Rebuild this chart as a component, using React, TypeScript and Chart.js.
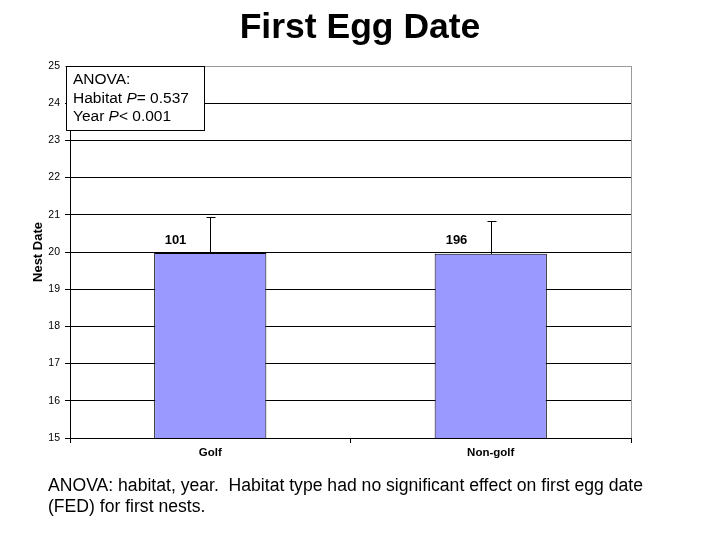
import React, { useEffect, useRef } from "react";
import { Chart, registerables } from "chart.js";

Chart.register(...registerables);

const categories = ["Golf", "Non-golf"];
const meanValues = [19.97, 19.95];
const errorTops = [20.94, 20.82];
const sampleSizes = ["101", "196"];
const yTicks = [15, 16, 17, 18, 19, 20, 21, 22, 23, 24, 25];
const titleText = "First Egg Date";
const yAxisTitle = "Nest Date";
const anovaLines = ["ANOVA:", "Habitat |P|= 0.537", "Year |P|< 0.001"];
const captionLines = [
  "ANOVA: habitat, year.  Habitat type had no significant effect on first egg date",
  "(FED) for first nests.",
];

const FONT = "Arial, 'Liberation Sans', Helvetica, sans-serif";

const overlayPlugin = {
  id: "overlay",
  afterDatasetsDraw(chart: any) {
    const ctx = chart.ctx;
    const y = chart.scales.y;
    const area = chart.chartArea;
    ctx.save();
    // right border (gray)
    ctx.strokeStyle = "#9a9a9a";
    ctx.lineWidth = 1;
    ctx.beginPath();
    ctx.moveTo(Math.round(area.right) + 0.5, area.top);
    ctx.lineTo(Math.round(area.right) + 0.5, area.bottom);
    ctx.stroke();

    // error bars
    ctx.strokeStyle = "#000";
    const meta = chart.getDatasetMeta(0);
    meta.data.forEach((bar: any, i: number) => {
      const cx = Math.round(bar.x) + 0.5;
      const yb = y.getPixelForValue(meanValues[i]);
      const yt = Math.round(y.getPixelForValue(errorTops[i])) + 0.5;
      ctx.beginPath();
      ctx.moveTo(cx, yb);
      ctx.lineTo(cx, yt);
      ctx.moveTo(cx - 4, yt);
      ctx.lineTo(cx + 5, yt);
      ctx.stroke();
      // sample size labels
      ctx.fillStyle = "#000";
      ctx.font = `bold 13px ${FONT}`;
      ctx.textAlign = "center";
      ctx.textBaseline = "alphabetic";
      ctx.fillText(sampleSizes[i], cx - 35, 243.5);
    });

    // annotation box
    const bx = 66.5, by = 66.5, bw = 138, bh = 64;
    ctx.fillStyle = "#fff";
    ctx.fillRect(bx, by, bw, bh);
    ctx.strokeStyle = "#000";
    ctx.strokeRect(bx, by, bw, bh);
    ctx.fillStyle = "#000";
    ctx.textAlign = "left";
    ctx.textBaseline = "alphabetic";
    anovaLines.forEach((line, i) => {
      let cxp = 73;
      const baseline = 84 + i * 18.5;
      const parts = line.split("|");
      parts.forEach((p, j) => {
        ctx.font = (j % 2 === 1 ? "italic " : "") + `15.5px ${FONT}`;
        ctx.fillText(p, cxp, baseline);
        cxp += ctx.measureText(p).width;
      });
    });

    // y-axis title
    ctx.save();
    ctx.translate(38, 252);
    ctx.rotate(-Math.PI / 2);
    ctx.font = `bold 13px ${FONT}`;
    ctx.textAlign = "center";
    ctx.textBaseline = "middle";
    ctx.fillText(yAxisTitle, 0, 0);
    ctx.restore();

    // title
    ctx.font = `bold 35.5px ${FONT}`;
    ctx.textAlign = "center";
    ctx.textBaseline = "alphabetic";
    ctx.fillText(titleText, 360, 38);

    // caption
    ctx.font = `17.6px ${FONT}`;
    ctx.textAlign = "left";
    ctx.textBaseline = "alphabetic";
    captionLines.forEach((l, i) => ctx.fillText(l, 48, 491 + i * 21));
    ctx.restore();
  },
};

export default function App() {
  const ref = useRef<HTMLCanvasElement>(null);
  useEffect(() => {
    document.body.style.margin = "0";
    const chart = new Chart(ref.current!, {
      type: "bar",
      data: {
        labels: categories,
        datasets: [
          {
            data: meanValues,
            backgroundColor: "#9999ff",
            borderColor: "#000",
            borderWidth: 1,
            barPercentage: 0.4,
            categoryPercentage: 1,
          },
        ],
      },
      options: {
        animation: false,
        responsive: false,
        layout: { padding: { left: 0, top: 66, right: 88, bottom: 0 } },
        plugins: { legend: { display: false }, tooltip: { enabled: false }, title: { display: false } },
        scales: {
          x: {
            afterFit: (s: any) => { s.height = 101; },
            grid: { drawOnChartArea: false, drawTicks: true, tickLength: 5, color: "#000", offset: true },
            border: { color: "#000" },
            ticks: { color: "#000", font: { family: FONT, size: 11.5, weight: "bold" }, padding: 3 },
          },
          y: {
            min: 15,
            max: 25,
            afterFit: (s: any) => { s.width = 70; },
            afterBuildTicks: (s: any) => { s.ticks = yTicks.map((v) => ({ value: v })); },
            grid: {
              color: (c: any) => (c.tick && c.tick.value === 25 ? "#9a9a9a" : "#000"),
              tickLength: 5,
              drawTicks: true,
            },
            border: { color: "#000" },
            ticks: { color: "#000", font: { family: FONT, size: 10.5 }, padding: 5 },
          },
        },
      },
      plugins: [overlayPlugin],
    });
    return () => chart.destroy();
  }, []);
  return <canvas ref={ref} width={719} height={539} style={{ display: "block" }} />;
}
